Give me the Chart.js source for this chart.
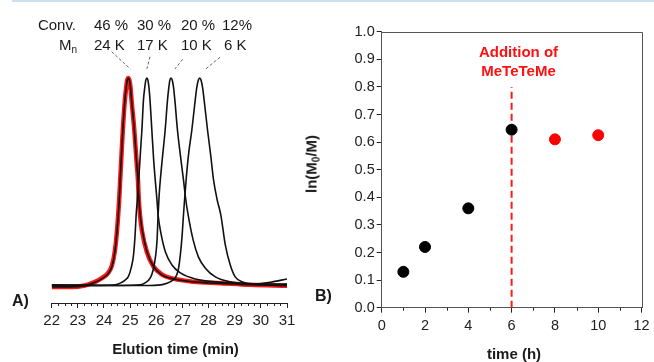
<!DOCTYPE html>
<html>
<head>
<meta charset="utf-8">
<script src="https://cdn.jsdelivr.net/npm/chart.js@4.4.0/dist/chart.umd.min.js"></script>
<style>
  body { margin: 0; background: #fff; }
  #fig { position: relative; width: 654px; height: 362px; overflow: hidden; background: #fff;
         font-family: "Liberation Sans", Arial, sans-serif; color: #1a1a1a; }
  #topline { position: absolute; left: 12px; top: 0; width: 642px; height: 2px; background: #cfe0f1; }
  canvas { position: absolute; top: 0; }
  #chartA { left: 0; }
  #chartB { left: 310px; }
  .t { position: absolute; white-space: nowrap; line-height: 1; }
  .lab { font-size: 15px; }
  .bold { font-weight: bold; }
  .red { color: #ff1010; }
  sub { font-size: 10px; vertical-align: -3px; line-height: 0; }
</style>
</head>
<body>
<div id="fig">
  <div id="topline"></div>
  <canvas id="chartA" width="310" height="362"></canvas>
  <canvas id="chartB" width="344" height="362"></canvas>

  <div class="t lab" style="left:20px;width:56px;text-align:right;top:17px;">Conv.</div>
  <div class="t lab" style="left:20px;width:57px;text-align:right;top:37px;">M<sub>n</sub></div>
  <div id="convRow"></div>

  <div class="t bold" style="left:12px;top:293px;font-size:16px;">A)</div>
  <div class="t bold" style="left:315px;top:288px;font-size:16px;">B)</div>
  <div class="t bold lab" style="left:175.5px;top:341px;transform:translateX(-50%);">Elution time (min)</div>
  <div class="t bold lab" style="left:514px;top:346px;transform:translateX(-50%);">time (h)</div>
  <div class="t bold lab" style="left:311px;top:164px;transform:translate(-50%,-50%) rotate(-90deg);">ln(M<sub>0</sub>/M)</div>
  <div class="t bold lab red" style="left:518.5px;top:44px;transform:translateX(-50%);">Addition of</div>
  <div class="t bold lab red" style="left:518.5px;top:62.5px;transform:translateX(-50%);">MeTeTeMe</div>
</div>

<script>
// ---------- Panel A: GPC traces (elution time in min, normalised intensity) ----------
const xTicksA = [22, 23, 24, 25, 26, 27, 28, 29, 30, 31];

const convLabels = ['46 %', '30 %', '20 %', '12%'];
const mnLabels = ['24 K', '17 K', '10 K', '6 K'];
const peakTimes = [24.93, 25.64, 26.56, 27.66];

// after addition of MeTeTeMe (red)
const redTime = [22.00, 22.70, 23.27, 23.66, 23.93, 24.16, 24.31, 24.42, 24.50, 24.58, 24.62, 24.66,
  24.72, 24.80, 24.85, 24.89, 24.93, 24.97, 25.01, 25.05, 25.16, 25.24, 25.30, 25.33, 25.38, 25.45,
  25.64, 25.88, 26.21, 26.53, 27.41, 28.45, 29.60, 31.00];
const redInt = [0.000, 0.000, 0.007, 0.024, 0.043, 0.067, 0.105, 0.177, 0.273, 0.416, 0.512, 0.608,
  0.751, 0.895, 0.955, 0.990, 1.000, 0.990, 0.960, 0.900, 0.750, 0.610, 0.510, 0.420, 0.340, 0.270,
  0.167, 0.100, 0.060, 0.043, 0.025, 0.018, 0.010, 0.005];

// 46 % / 24 K
const trace1Time = [22.00, 22.70, 23.27, 23.66, 23.93, 24.16, 24.31, 24.42, 24.50, 24.58, 24.62, 24.66,
  24.72, 24.80, 24.85, 24.89, 24.93, 24.97, 25.01, 25.05, 25.16, 25.24, 25.30, 25.33, 25.38, 25.45,
  25.64, 25.88, 26.21, 26.53, 27.41, 28.45, 29.60, 31.00];
const trace1Int = [0.000, 0.000, 0.006, 0.022, 0.040, 0.063, 0.100, 0.170, 0.270, 0.410, 0.510, 0.610,
  0.750, 0.895, 0.955, 0.990, 1.000, 0.990, 0.960, 0.900, 0.750, 0.610, 0.510, 0.430, 0.350, 0.280,
  0.170, 0.100, 0.058, 0.042, 0.024, 0.017, 0.010, 0.006];

// 30 % / 17 K
const trace2Time = [22.00, 23.85, 24.43, 24.62, 24.81, 24.93, 25.04, 25.13, 25.19, 25.23, 25.29, 25.34,
  25.40, 25.45, 25.51, 25.56, 25.60, 25.64, 25.68, 25.72, 25.76, 25.83, 25.90, 25.96, 26.02, 26.07,
  26.19, 26.35, 26.60, 26.92, 27.49, 28.45, 29.60, 31.00];
const trace2Int = [0.007, 0.007, 0.010, 0.018, 0.033, 0.049, 0.091, 0.153, 0.249, 0.344, 0.440, 0.536,
  0.656, 0.751, 0.895, 0.955, 0.990, 1.000, 0.990, 0.955, 0.895, 0.751, 0.608, 0.512, 0.426, 0.344,
  0.249, 0.167, 0.105, 0.067, 0.038, 0.022, 0.014, 0.012];

// 20 % / 10 K
const trace3Time = [22.00, 24.62, 25.38, 25.57, 25.77, 25.88, 25.98, 26.03, 26.07, 26.11, 26.16, 26.24,
  26.34, 26.43, 26.48, 26.52, 26.56, 26.61, 26.66, 26.71, 26.81, 26.92, 27.04, 27.13, 27.22, 27.41,
  27.61, 27.87, 28.26, 28.83, 29.60, 31.00];
const trace3Int = [0.010, 0.007, 0.010, 0.019, 0.043, 0.081, 0.153, 0.225, 0.344, 0.440, 0.520, 0.625,
  0.751, 0.895, 0.955, 0.990, 1.000, 0.990, 0.955, 0.895, 0.751, 0.632, 0.512, 0.416, 0.344, 0.225,
  0.144, 0.091, 0.048, 0.024, 0.014, 0.012];

// 12 % / 6 K
const trace4Time = [22.00, 25.77, 26.27, 26.53, 26.72, 26.84, 26.92, 26.99, 27.04, 27.09, 27.15, 27.24,
  27.36, 27.49, 27.55, 27.61, 27.66, 27.71, 27.77, 27.83, 27.96, 28.08, 28.19, 28.33, 28.47, 28.64,
  28.83, 29.02, 29.33, 29.79, 30.36, 31.00];
const trace4Int = [0.007, 0.007, 0.012, 0.024, 0.043, 0.081, 0.153, 0.249, 0.344, 0.430, 0.525, 0.640,
  0.751, 0.895, 0.955, 0.990, 1.000, 0.990, 0.955, 0.895, 0.751, 0.632, 0.512, 0.416, 0.344, 0.201,
  0.105, 0.048, 0.022, 0.014, 0.022, 0.038];

// ---------- Panel B: kinetics ----------
const xTicksB = [0, 2, 4, 6, 8, 10, 12];
const yTicksB = [0, 0.1, 0.2, 0.3, 0.4, 0.5, 0.6, 0.7, 0.8, 0.9, 1.0];
const timeBefore = [1, 2, 4, 6];
const lnBefore = [0.13, 0.22, 0.36, 0.645];
const timeAfter = [8, 10];
const lnAfter = [0.61, 0.625];
const additionTime = 6;
const additionLineTop = 0.8;

const FONT = '"Liberation Sans", Arial, sans-serif';
const INK = '#222';
const RED = '#ff0000';

const pts = (xs, ys) => xs.map((x, i) => ({ x: x, y: ys[i] }));

// annotation labels above the peaks
const convX = [94, 137, 181, 222];
const mnX = [94, 137, 181, 224];
const row = document.getElementById('convRow');
convLabels.forEach((txt, i) => {
  row.insertAdjacentHTML('beforeend',
    `<div class="t lab" style="left:${convX[i]}px;top:17px;">${txt}</div>` +
    `<div class="t lab" style="left:${mnX[i]}px;top:37px;">${mnLabels[i]}</div>`);
});

const panelAExtras = {
  id: 'panelAExtras',
  afterDraw(chart) {
    const { ctx, scales: { x, y }, chartArea } = chart;
    ctx.save();
    // minor ticks every 0.25 min
    ctx.strokeStyle = INK;
    ctx.lineWidth = 1;
    ctx.beginPath();
    for (let v = 22; v <= 31.001; v += 0.25) {
      if (Math.abs(v - Math.round(v)) < 1e-6) continue;
      const px = Math.round(x.getPixelForValue(v)) + 0.5;
      ctx.moveTo(px, chartArea.bottom);
      ctx.lineTo(px, chartArea.bottom + 3);
    }
    ctx.stroke();

    // dashed leaders from labels to peaks
    const tops = [[111.7, 51.7], [150, 56.7], [182.7, 59.3], [220, 57.3]];
    const dx = [2, 0, 4, 6];
    ctx.strokeStyle = '#666';
    ctx.setLineDash([3, 2]);
    peakTimes.forEach((t, i) => {
      ctx.beginPath();
      ctx.moveTo(tops[i][0], tops[i][1]);
      ctx.lineTo(x.getPixelForValue(t) + dx[i], y.getPixelForValue(1) - 9);
      ctx.stroke();
    });
    ctx.restore();
  }
};

const traceSet = (label, xs, ys, color, width, order) => ({
  label: label,
  data: pts(xs, ys),
  borderColor: color,
  borderWidth: width,
  pointRadius: 0,
  fill: false,
  cubicInterpolationMode: 'monotone',
  order: order
});

new Chart(document.getElementById('chartA'), {
  type: 'line',
  data: {
    datasets: [
      traceSet('after MeTeTeMe', redTime, redInt, 'rgba(255,0,0,0.92)', 4.5, 10),
      traceSet('24 K', trace1Time, trace1Int, '#111', 1.6, 1),
      traceSet('17 K', trace2Time, trace2Int, '#111', 1.6, 2),
      traceSet('10 K', trace3Time, trace3Int, '#111', 1.6, 3),
      traceSet('6 K', trace4Time, trace4Int, '#111', 1.6, 4)
    ]
  },
  options: {
    responsive: false,
    animation: false,
    layout: { padding: { left: 51.7, right: 23, top: 60, bottom: 0 } },
    plugins: { legend: { display: false }, tooltip: { enabled: false } },
    scales: {
      x: {
        type: 'linear',
        min: 22,
        max: 31,
        afterBuildTicks: s => { s.ticks = xTicksA.map(v => ({ value: v })); },
        afterFit: s => { s.height = 59; },
        grid: { drawOnChartArea: false, tickLength: 5, color: INK },
        border: { display: true, color: INK, width: 1 },
        ticks: { color: INK, padding: 4, font: { family: FONT, size: 15 }, maxRotation: 0 }
      },
      y: { display: false, min: -0.077, max: 1.086 }
    }
  },
  plugins: [panelAExtras]
});

const panelBExtras = {
  id: 'panelBExtras',
  afterDraw(chart) {
    const { ctx, scales: { x }, chartArea: a } = chart;
    ctx.save();
    ctx.strokeStyle = '#555';
    ctx.lineWidth = 1;
    ctx.beginPath();
    ctx.moveTo(Math.round(a.left), Math.round(a.top) + 0.5);
    ctx.lineTo(Math.round(a.right) + 0.5, Math.round(a.top) + 0.5);
    ctx.lineTo(Math.round(a.right) + 0.5, Math.round(a.bottom));
    ctx.stroke();
    // minor ticks at odd hours
    ctx.strokeStyle = INK;
    ctx.beginPath();
    for (let v = 1; v < 12; v += 2) {
      const px = Math.round(x.getPixelForValue(v)) + 0.5;
      ctx.moveTo(px, a.bottom);
      ctx.lineTo(px, a.bottom + 3);
    }
    ctx.stroke();
    ctx.restore();
  }
};

new Chart(document.getElementById('chartB'), {
  type: 'scatter',
  data: {
    datasets: [
      {
        type: 'line',
        label: 'addition',
        data: [{ x: additionTime, y: 0 }, { x: additionTime, y: additionLineTop }],
        borderColor: '#ff1a1a',
        borderWidth: 2,
        borderDash: [7, 4],
        pointRadius: 0,
        fill: false,
        order: 5
      },
      {
        label: 'before',
        data: pts(timeBefore, lnBefore),
        backgroundColor: '#000',
        borderColor: '#000',
        pointRadius: 5.5,
        order: 1
      },
      {
        label: 'after',
        data: pts(timeAfter, lnAfter),
        backgroundColor: RED,
        borderColor: RED,
        pointRadius: 5.5,
        order: 1
      }
    ]
  },
  options: {
    responsive: false,
    animation: false,
    layout: { padding: { left: 0, right: 10.7, top: 31.7, bottom: 0 } },
    plugins: { legend: { display: false }, tooltip: { enabled: false } },
    scales: {
      x: {
        type: 'linear',
        min: 0,
        max: 12,
        afterBuildTicks: s => { s.ticks = xTicksB.map(v => ({ value: v })); },
        afterFit: s => { s.height = 54.3; },
        grid: { drawOnChartArea: false, tickLength: 5, color: INK },
        border: { display: true, color: '#555', width: 1 },
        ticks: { color: INK, padding: 4.4, font: { family: FONT, size: 14.5 }, maxRotation: 0 }
      },
      y: {
        type: 'linear',
        min: 0,
        max: 1,
        afterBuildTicks: s => { s.ticks = yTicksB.map(v => ({ value: v })); },
        afterFit: s => { s.width = 71.7; },
        grid: { drawOnChartArea: false, tickLength: 5, color: INK },
        border: { display: true, color: '#555', width: 1 },
        ticks: {
          color: INK,
          padding: 2,
          font: { family: FONT, size: 14.5 },
          callback: v => v.toFixed(1)
        }
      }
    }
  },
  plugins: [panelBExtras]
});
</script>
</body>
</html>
